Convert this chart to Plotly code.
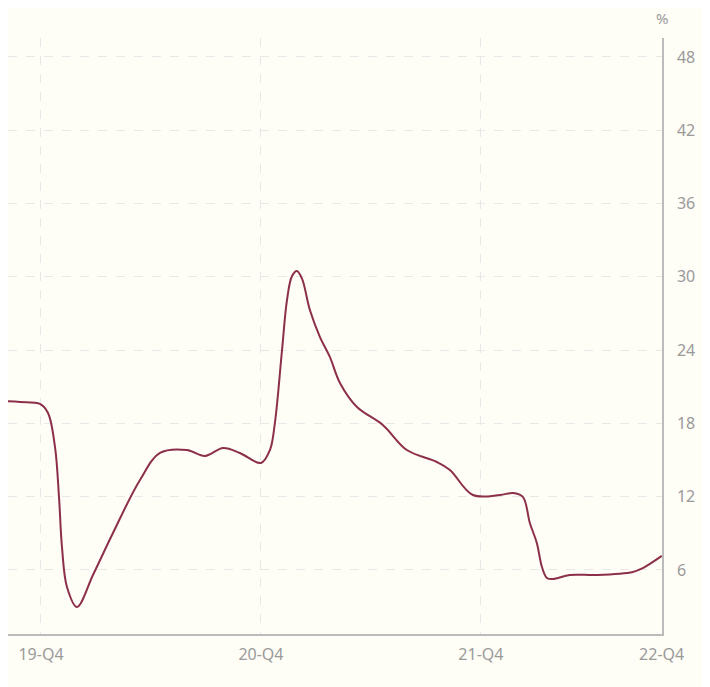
import plotly.graph_objects as go

# months relative to 19-Q4
months = [-2.236, -1.145, -0.055, 0.382, 0.764, 0.982, 1.145, 1.418, 1.964, 2.836,
          3.927, 5.4, 6.49, 7.96, 8.95, 9.93, 10.85, 12.0, 12.49, 12.76,
          13.15, 13.42, 13.69, 13.96, 14.24, 14.67, 15.22, 15.76, 16.31, 17.24, 18.65,
          19.96, 21.6, 22.31, 23.56, 25.04, 25.75, 26.29, 26.67, 27.05, 27.33,
          27.6, 27.93, 28.85, 30.33, 32.29, 32.84, 33.87]
values = [19.83, 19.75, 19.59, 18.85, 16.07, 11.98, 7.88, 4.61, 2.97, 5.59,
          9.03, 13.37, 15.58, 15.82, 15.33, 15.99, 15.58, 14.76, 15.82, 18.03,
          24.01, 28.10, 30.05, 30.48, 29.85, 27.28, 25.07, 23.44, 21.31, 19.34, 17.87,
          15.82, 14.84, 14.19, 12.14, 12.14, 12.30, 11.98, 9.85, 8.21, 6.25,
          5.35, 5.26, 5.59, 5.59, 5.84, 6.16, 7.15]

tick_vals = [0, 12, 24, 33.86]
tick_text = ["19-Q4", "20-Q4", "21-Q4", "22-Q4"]
y_ticks = [6, 12, 18, 24, 30, 36, 42, 48]

bg = "#fefdf6"
font_family = "Noto Sans, sans-serif"
fig = go.Figure()
fig.add_trace(go.Scatter(x=months, y=values, mode="lines",
                         line=dict(color="#8c2f4a", width=2, shape="spline", smoothing=1.0),
                         hoverinfo="skip", showlegend=False))

fig.update_layout(
    width=702, height=679,
    paper_bgcolor=bg, plot_bgcolor=bg,
    margin=dict(l=0, r=48, t=30, b=53),
    font=dict(family=font_family, color="#9a9a9a", size=16),
    xaxis=dict(range=[-1.8, 33.88], tickvals=tick_vals, ticktext=tick_text,
               showgrid=True, gridcolor="#e8e8e8", griddash="dash", gridwidth=1,
               showline=True, linecolor="#bbbbbb", linewidth=1.5,
               ticks="", ticklabelstandoff=5, zeroline=False,
               tickfont=dict(family=font_family, size=16, color="#9a9a9a")),
    yaxis=dict(range=[0.76, 49.55], tickvals=y_ticks, side="right",
               showgrid=True, gridcolor="#e8e8e8", griddash="dash", gridwidth=1,
               showline=True, linecolor="#bbbbbb", linewidth=1.5,
               ticks="", ticklabelstandoff=10, zeroline=False,
               tickfont=dict(family=font_family, size=16, color="#9a9a9a")),
    annotations=[dict(text="%", xref="paper", yref="paper", x=1, y=1, yshift=20,
                      showarrow=False, xanchor="center", yanchor="middle",
                      font=dict(family=font_family, size=15, color="#9a9a9a"))],
)

fig.write_html("out.html")
